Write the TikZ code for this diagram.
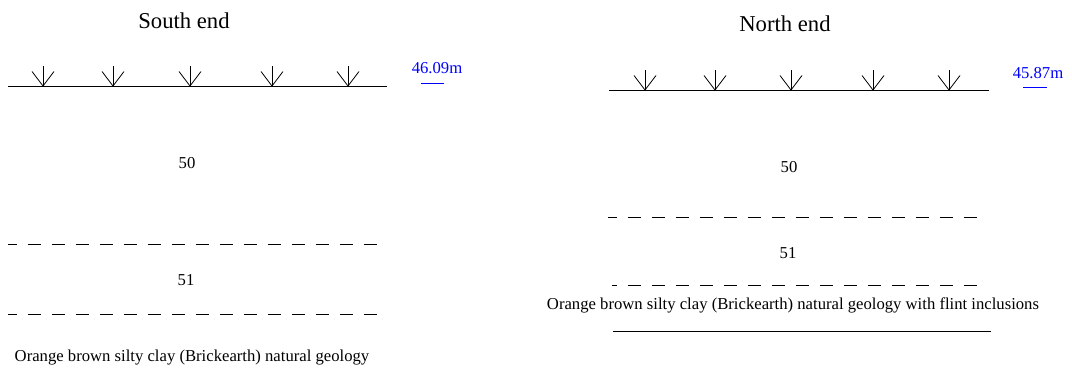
\documentclass[tikz,border=0pt]{standalone}
\usepackage{fontspec}
\setmainfont{Liberation Serif}
\begin{document}
\begin{tikzpicture}[x=0.75pt,y=-0.75pt,
  ln/.style={line width=0.6pt,black},
  dsh/.style={line width=0.6pt,black,dash pattern=on 9.75pt off 8.25pt,dash phase=3pt},
  ttl/.style={inner sep=0pt,anchor=base,font=\fontsize{17}{20}\selectfont},
  lbl/.style={inner sep=0pt,anchor=base,font=\fontsize{12.5}{15}\selectfont},
  lvl/.style={inner sep=0pt,anchor=base,text=blue,font=\fontsize{12.5}{15}\selectfont},
  lvlline/.style={line width=0.6pt,blue}]
\useasboundingbox (0,0) rectangle (1072,368);
% ---- South end ----
\node[ttl] (stitle) at (184,28) {South end};
\coordinate (sl) at (8,86);
\coordinate (sr) at (387,86);
\draw[ln] (sl) -- (sr);
\foreach \x in {43,113,190,272,348}{
  \draw[ln] (\x,66) -- (\x,86);
  \draw[ln] (\x-11,71.5) -- (\x,86) -- (\x+11,71.5);
}
\node[lvl] (slev) at (437,73) {46.09m};
\coordinate (slu1) at (421,83);
\coordinate (slu2) at (444,83);
\draw[lvlline] (slu1) -- (slu2);
\node[lbl] (s50) at (187,168) {50};
\coordinate (sd1a) at (8,244);
\coordinate (sd1b) at (377,244);
\draw[dsh] (sd1a) -- (sd1b);
\node[lbl] (s51) at (186,285) {51};
\coordinate (sd2a) at (8,314);
\coordinate (sd2b) at (377,314);
\draw[dsh] (sd2a) -- (sd2b);
\node[lbl] (snat) at (192,361) {Orange brown silty clay (Brickearth) natural geology};
% ---- North end ----
\node[ttl] (ntitle) at (785,31) {North end};
\coordinate (nl) at (609,90);
\coordinate (nr) at (989,90);
\draw[ln] (nl) -- (nr);
\foreach \x in {645,715,791,873,949}{
  \draw[ln] (\x,70) -- (\x,90);
  \draw[ln] (\x-11,75.5) -- (\x,90) -- (\x+11,75.5);
}
\node[lvl] (nlev) at (1038,78) {45.87m};
\coordinate (nlu1) at (1023,87);
\coordinate (nlu2) at (1047,87);
\draw[lvlline] (nlu1) -- (nlu2);
\node[lbl] (n50) at (789,172) {50};
\coordinate (nd1a) at (608,217);
\coordinate (nd1b) at (977,217);
\draw[dsh] (nd1a) -- (nd1b);
\node[lbl] (n51) at (788,258) {51};
\coordinate (nd2a) at (612,285);
\coordinate (nd2b) at (978,285);
\draw[dsh,dash phase=6pt] (nd2a) -- (nd2b);
\node[lbl] (nnat) at (793,309) {Orange brown silty clay (Brickearth) natural geology with flint inclusions};
\coordinate (nb1) at (613,331);
\coordinate (nb2) at (991,331);
\draw[ln] (nb1) -- (nb2);
\end{tikzpicture}
\end{document}
